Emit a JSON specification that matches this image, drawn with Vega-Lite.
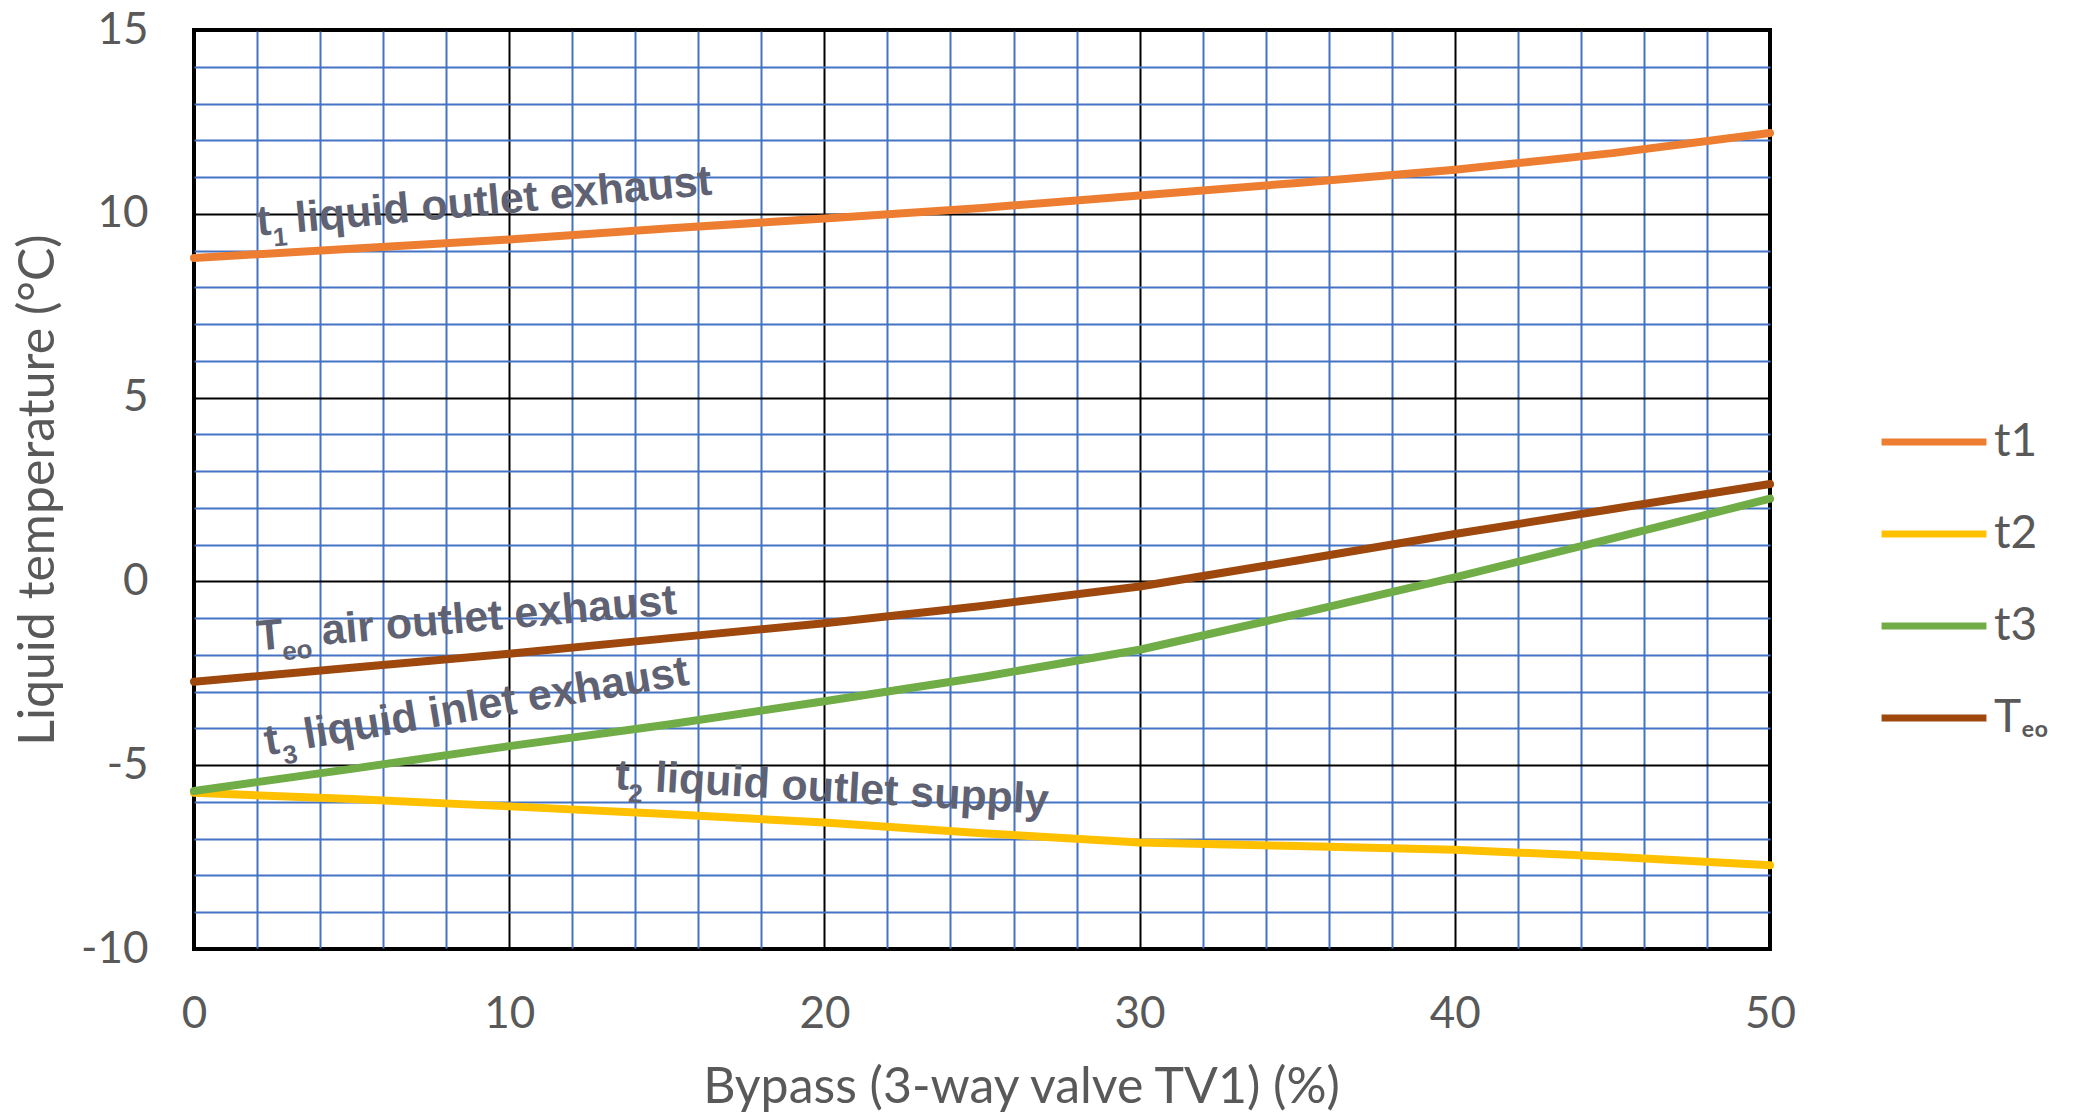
{
  "$schema": "https://vega.github.io/schema/vega-lite/v6.json",
  "width": 1576,
  "height": 919,
  "autosize": {"type": "none"},
  "padding": {"left": 194, "top": 30, "right": 304, "bottom": 168},
  "background": "white",
  "config": {
    "view": {"stroke": "#000000", "strokeWidth": 4},
    "axis": {
      "domain": false,
      "ticks": false,
      "labelFont": "Lato",
      "labelFontSize": 44,
      "labelColor": "#595959",
      "labelOverlap": false,
      "labelFlush": false,
      "titleFont": "Lato",
      "titleFontSize": 50,
      "titleFontWeight": "normal",
      "titleColor": "#595959"
    }
  },
  "datasets": {
    "lines": [
      {"series": "t1", "bypass": 0, "temp": 8.8},
      {"series": "t1", "bypass": 5, "temp": 9.05},
      {"series": "t1", "bypass": 10, "temp": 9.3},
      {"series": "t1", "bypass": 15, "temp": 9.6},
      {"series": "t1", "bypass": 20, "temp": 9.87},
      {"series": "t1", "bypass": 25, "temp": 10.16},
      {"series": "t1", "bypass": 30, "temp": 10.5},
      {"series": "t1", "bypass": 35, "temp": 10.84},
      {"series": "t1", "bypass": 40, "temp": 11.2},
      {"series": "t1", "bypass": 45, "temp": 11.65},
      {"series": "t1", "bypass": 50, "temp": 12.2},
      {"series": "t2", "bypass": 0, "temp": -5.75},
      {"series": "t2", "bypass": 5, "temp": -5.92},
      {"series": "t2", "bypass": 10, "temp": -6.12},
      {"series": "t2", "bypass": 15, "temp": -6.33},
      {"series": "t2", "bypass": 20, "temp": -6.56},
      {"series": "t2", "bypass": 25, "temp": -6.85},
      {"series": "t2", "bypass": 30, "temp": -7.1},
      {"series": "t2", "bypass": 35, "temp": -7.2},
      {"series": "t2", "bypass": 40, "temp": -7.3},
      {"series": "t2", "bypass": 45, "temp": -7.49},
      {"series": "t2", "bypass": 50, "temp": -7.72},
      {"series": "t3", "bypass": 0, "temp": -5.7},
      {"series": "t3", "bypass": 5, "temp": -5.1},
      {"series": "t3", "bypass": 10, "temp": -4.48},
      {"series": "t3", "bypass": 15, "temp": -3.9},
      {"series": "t3", "bypass": 20, "temp": -3.26},
      {"series": "t3", "bypass": 25, "temp": -2.6},
      {"series": "t3", "bypass": 30, "temp": -1.86},
      {"series": "t3", "bypass": 35, "temp": -0.89},
      {"series": "t3", "bypass": 40, "temp": 0.11},
      {"series": "t3", "bypass": 45, "temp": 1.17},
      {"series": "t3", "bypass": 50, "temp": 2.25},
      {"series": "Teo", "bypass": 0, "temp": -2.73},
      {"series": "Teo", "bypass": 5, "temp": -2.35},
      {"series": "Teo", "bypass": 10, "temp": -1.97},
      {"series": "Teo", "bypass": 15, "temp": -1.55},
      {"series": "Teo", "bypass": 20, "temp": -1.14},
      {"series": "Teo", "bypass": 25, "temp": -0.67},
      {"series": "Teo", "bypass": 30, "temp": -0.14},
      {"series": "Teo", "bypass": 35, "temp": 0.57},
      {"series": "Teo", "bypass": 40, "temp": 1.29},
      {"series": "Teo", "bypass": 45, "temp": 1.97},
      {"series": "Teo", "bypass": 50, "temp": 2.65}
    ],
    "labels": [
      {"key": "t1", "bypass": 2.02, "temp": 9.4, "main": "t", "sub": "1", "rest": "liquid outlet exhaust"},
      {"key": "Teo", "bypass": 2.03, "temp": -1.88, "main": "T", "sub": "eo", "rest": "air outlet exhaust"},
      {"key": "t3", "bypass": 2.31, "temp": -4.73, "main": "t", "sub": "3", "rest": "liquid inlet exhaust"},
      {"key": "t2", "bypass": 13.34, "temp": -5.65, "main": "t", "sub": "2", "rest": "liquid outlet supply"}
    ]
  },
  "layer": [
    {
      "data": {"name": "lines"},
      "mark": {"type": "line", "strokeWidth": 8, "strokeCap": "round", "strokeJoin": "round"},
      "encoding": {
        "x": {
          "field": "bypass", "type": "quantitative",
          "scale": {"domain": [0, 50], "nice": false},
          "axis": {
            "title": "Bypass (3-way valve TV1) (%)",
            "values": [0,2,4,6,8,10,12,14,16,18,20,22,24,26,28,30,32,34,36,38,40,42,44,46,48,50],
            "tickCount": 60,
            "labelExpr": "datum.value % 10 === 0 ? '' + datum.value : ''",
            "labelOverlap": false,
            "labelFlush": false,
            "labelPadding": 43,
            "titlePadding": 26,
            "titleX": 827,
            "gridColor": {"condition": {"test": "datum.value % 10 === 0", "value": "#000000"}, "value": "#4472C4"},
            "gridWidth": 2,
            "gridOpacity": 1
          }
        },
        "y": {
          "field": "temp", "type": "quantitative",
          "scale": {"domain": [-10, 15], "nice": false, "zero": false},
          "axis": {
            "title": "Liquid temperature (°C)",
            "values": [-10,-9,-8,-7,-6,-5,-4,-3,-2,-1,0,1,2,3,4,5,6,7,8,9,10,11,12,13,14,15],
            "tickCount": 60,
            "labelExpr": "datum.value % 5 === 0 ? '' + datum.value : ''",
            "labelOverlap": false,
            "labelFlush": false,
            "labelPadding": 46,
            "titlePadding": 17,
            "gridColor": {"condition": {"test": "datum.value % 5 === 0", "value": "#000000"}, "value": "#4472C4"},
            "gridWidth": 2,
            "gridOpacity": 1
          }
        },
        "color": {
          "field": "series", "type": "nominal",
          "scale": {"domain": ["t1", "t2", "t3", "Teo"], "range": ["#ED7D31", "#FFC000", "#70AD47", "#9E480E"]},
          "legend": {
            "title": null,
            "orient": "none",
            "legendX": 1684,
            "legendY": 356,
            "padding": 0,
            "symbolType": "stroke",
            "symbolSize": 11000,
            "symbolStrokeWidth": 7,
            "labelFont": "Lato",
            "labelFontSize": 46,
            "labelColor": "#595959",
            "labelOffset": 4,
            "rowPadding": 13,
            "labelExpr": "datum.label === 'Teo' ? 'Tₑₒ' : datum.label"
          }
        }
      }
    },
    {"data": {"name": "labels"}, "transform": [{"filter": "datum.key === 't1'"}],
     "mark": {"type": "text", "angle": 354.8, "align": "left", "baseline": "alphabetic", "font": "Liberation Sans", "fontWeight": "bold", "fontSize": 43, "color": "#5f6272"},
     "encoding": {"x": {"field": "bypass", "type": "quantitative"}, "y": {"field": "temp", "type": "quantitative"}, "text": {"field": "main"}}},
    {"data": {"name": "labels"}, "transform": [{"filter": "datum.key === 't1'"}],
     "mark": {"type": "text", "angle": 354.8, "align": "left", "baseline": "alphabetic", "font": "Liberation Sans", "fontWeight": "bold", "fontSize": 26, "color": "#5f6272", "dx": 15, "dy": 12},
     "encoding": {"x": {"field": "bypass", "type": "quantitative"}, "y": {"field": "temp", "type": "quantitative"}, "text": {"field": "sub"}}},
    {"data": {"name": "labels"}, "transform": [{"filter": "datum.key === 't1'"}],
     "mark": {"type": "text", "angle": 354.8, "align": "left", "baseline": "alphabetic", "font": "Liberation Sans", "fontWeight": "bold", "fontSize": 43, "color": "#5f6272", "dx": 39},
     "encoding": {"x": {"field": "bypass", "type": "quantitative"}, "y": {"field": "temp", "type": "quantitative"}, "text": {"field": "rest"}}},
    {"data": {"name": "labels"}, "transform": [{"filter": "datum.key === 'Teo'"}],
     "mark": {"type": "text", "angle": 355, "align": "left", "baseline": "alphabetic", "font": "Liberation Sans", "fontWeight": "bold", "fontSize": 43, "color": "#5f6272"},
     "encoding": {"x": {"field": "bypass", "type": "quantitative"}, "y": {"field": "temp", "type": "quantitative"}, "text": {"field": "main"}}},
    {"data": {"name": "labels"}, "transform": [{"filter": "datum.key === 'Teo'"}],
     "mark": {"type": "text", "angle": 355, "align": "left", "baseline": "alphabetic", "font": "Liberation Sans", "fontWeight": "bold", "fontSize": 26, "color": "#5f6272", "dx": 24, "dy": 12},
     "encoding": {"x": {"field": "bypass", "type": "quantitative"}, "y": {"field": "temp", "type": "quantitative"}, "text": {"field": "sub"}}},
    {"data": {"name": "labels"}, "transform": [{"filter": "datum.key === 'Teo'"}],
     "mark": {"type": "text", "angle": 355, "align": "left", "baseline": "alphabetic", "font": "Liberation Sans", "fontWeight": "bold", "fontSize": 43, "color": "#5f6272", "dx": 65},
     "encoding": {"x": {"field": "bypass", "type": "quantitative"}, "y": {"field": "temp", "type": "quantitative"}, "text": {"field": "rest"}}},
    {"data": {"name": "labels"}, "transform": [{"filter": "datum.key === 't3'"}],
     "mark": {"type": "text", "angle": 350.5, "align": "left", "baseline": "alphabetic", "font": "Liberation Sans", "fontWeight": "bold", "fontSize": 43, "color": "#5f6272"},
     "encoding": {"x": {"field": "bypass", "type": "quantitative"}, "y": {"field": "temp", "type": "quantitative"}, "text": {"field": "main"}}},
    {"data": {"name": "labels"}, "transform": [{"filter": "datum.key === 't3'"}],
     "mark": {"type": "text", "angle": 350.5, "align": "left", "baseline": "alphabetic", "font": "Liberation Sans", "fontWeight": "bold", "fontSize": 26, "color": "#5f6272", "dx": 16, "dy": 12},
     "encoding": {"x": {"field": "bypass", "type": "quantitative"}, "y": {"field": "temp", "type": "quantitative"}, "text": {"field": "sub"}}},
    {"data": {"name": "labels"}, "transform": [{"filter": "datum.key === 't3'"}],
     "mark": {"type": "text", "angle": 350.5, "align": "left", "baseline": "alphabetic", "font": "Liberation Sans", "fontWeight": "bold", "fontSize": 43, "color": "#5f6272", "dx": 40},
     "encoding": {"x": {"field": "bypass", "type": "quantitative"}, "y": {"field": "temp", "type": "quantitative"}, "text": {"field": "rest"}}},
    {"data": {"name": "labels"}, "transform": [{"filter": "datum.key === 't2'"}],
     "mark": {"type": "text", "angle": 3.3, "align": "left", "baseline": "alphabetic", "font": "Liberation Sans", "fontWeight": "bold", "fontSize": 43, "color": "#5f6272"},
     "encoding": {"x": {"field": "bypass", "type": "quantitative"}, "y": {"field": "temp", "type": "quantitative"}, "text": {"field": "main"}}},
    {"data": {"name": "labels"}, "transform": [{"filter": "datum.key === 't2'"}],
     "mark": {"type": "text", "angle": 3.3, "align": "left", "baseline": "alphabetic", "font": "Liberation Sans", "fontWeight": "bold", "fontSize": 26, "color": "#5f6272", "dx": 14, "dy": 12},
     "encoding": {"x": {"field": "bypass", "type": "quantitative"}, "y": {"field": "temp", "type": "quantitative"}, "text": {"field": "sub"}}},
    {"data": {"name": "labels"}, "transform": [{"filter": "datum.key === 't2'"}],
     "mark": {"type": "text", "angle": 3.3, "align": "left", "baseline": "alphabetic", "font": "Liberation Sans", "fontWeight": "bold", "fontSize": 43, "color": "#5f6272", "dx": 40},
     "encoding": {"x": {"field": "bypass", "type": "quantitative"}, "y": {"field": "temp", "type": "quantitative"}, "text": {"field": "rest"}}}
  ]
}
